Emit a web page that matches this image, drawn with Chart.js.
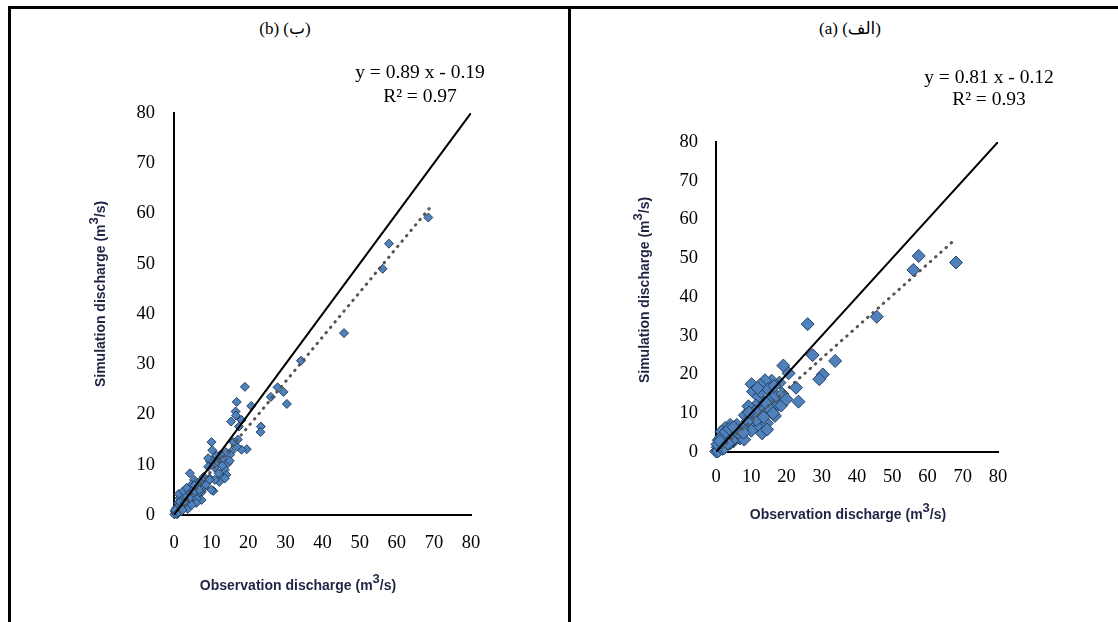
<!DOCTYPE html>
<html>
<head>
<meta charset="utf-8">
<script src="https://cdn.jsdelivr.net/npm/chart.js@4.4.0/dist/chart.umd.min.js"></script>
<style>
  body { margin: 0; background: #fff; width: 1118px; height: 622px; overflow: hidden; position: relative; }
  #frame { position: absolute; left: 8px; top: 6px; width: 1200px; height: 700px; border-left: 3px solid #000; border-top: 3px solid #000; }
  #divider { position: absolute; left: 568px; top: 6px; width: 3px; height: 620px; background: #000; }
  .head { position: absolute; top: 18px; font: 17px 'Liberation Serif', 'DejaVu Sans', serif; white-space: nowrap; transform: translateX(-50%); color: #000; }
  canvas { position: absolute; }
</style>
</head>
<body>
<div id="frame"></div>
<div id="divider"></div>
<div class="head" style="left:285px">(b) (ب)</div>
<div class="head" style="left:850px">(a) (الف)</div>
<canvas id="chartB" width="556" height="612" style="left:12px;top:10px"></canvas>
<canvas id="chartA" width="546" height="612" style="left:572px;top:10px"></canvas>
<script>
// axis ticks (both panels)
const axisTicks = [0, 10, 20, 30, 40, 50, 60, 70, 80];

// panel (b): observed vs simulated discharge, m3/s
const obsB = [68.5, 57.9, 56.2, 45.8, 34.2, 30.4, 29.5, 27.9, 26.1, 23.4, 23.3, 20.8, 19.1, 16.9, 16.6, 16.7, 15.4, 18.2, 17.5, 19.6,
  18.2, 16.9, 15.4, 16.0, 17.2, 10.1, 10.3, 9.7, 9.2, 10.6, 7.5, 4.3, 9.6, 13.2, 14.5, 13.7, 11.9, 11.0, 14.1, 12.7,
  13.7, 12.0, 10.1, 9.2, 15.1, 14.0, 12.5, 11.5, 13.0, 15.0, 12.2, 11.0, 10.1, 7.4, 8.7, 9.6, 6.5, 5.4, 4.7, 3.8,
  2.9, 2.0, 1.5, 1.1, 5.6, 4.7, 6.5, 3.8, 2.4, 7.4, 0.2, 0.3, 0.1, 0.5, 0.8, 1.0, 1.4, 1.8, 2.2, 2.6,
  3.2, 3.5, 4.1, 4.4, 5.0, 5.8, 6.2, 6.9, 8.0, 8.2, 3.0, 2.0, 1.2, 0.6, 0.4, 0.9, 1.6, 2.8, 4.0, 5.2,
  1.3, 2.5, 3.4, 6.0, 0.7, 1.9, 3.7, 4.8, 5.5, 6.8, 8.6, 0.3, 1.1, 2.3];
const simB = [59.2, 54.0, 49.0, 36.2, 30.7, 22.1, 24.5, 25.4, 23.5, 17.6, 16.5, 21.7, 25.5, 22.5, 20.6, 19.8, 18.6, 18.9, 17.6, 13.1,
  13.0, 13.6, 12.6, 14.5, 15.0, 14.5, 12.9, 10.7, 9.6, 4.8, 4.6, 8.3, 7.3, 11.3, 10.3, 9.0, 10.3, 9.4, 8.0, 7.6,
  7.3, 8.3, 10.9, 11.3, 12.0, 12.5, 12.0, 11.8, 9.8, 10.8, 6.6, 7.0, 5.0, 5.0, 6.3, 7.0, 5.6, 7.0, 6.0, 5.0,
  4.3, 4.0, 3.4, 2.4, 3.7, 2.7, 4.3, 3.0, 2.0, 3.0, 0.7, 0.3, 0.1, 0.4, 0.6, 1.2, 0.9, 1.5, 2.8, 3.6,
  3.9, 2.2, 4.6, 3.4, 5.2, 6.2, 3.2, 6.6, 7.6, 5.6, 1.6, 1.1, 1.8, 1.4, 0.9, 0.2, 2.6, 2.4, 1.8, 4.4,
  4.2, 4.8, 5.4, 2.4, 0.2, 0.7, 1.2, 2.0, 5.9, 5.0, 6.0, 1.0, 0.5, 1.0];
const trendB = { slope: 0.89, intercept: -0.19, xEnd: 68.8, equation: 'y = 0.89 x - 0.19', r2: 'R² = 0.97' };

// panel (a)
const obsA = [68.1, 57.5, 56.0, 45.6, 26.0, 27.4, 33.8, 30.3, 29.3, 22.7, 23.4, 19.1, 20.6, 19.2, 18.0, 15.8, 13.9, 12.5, 10.1, 10.5,
  12.0, 11.3, 9.2, 8.2, 16.7, 17.2, 15.3, 13.1, 12.4, 13.1, 14.4, 15.3, 8.7, 6.8, 5.9, 4.0, 2.6, 1.6, 3.5, 4.9,
  3.0, 1.2, 0.3, 0.8, 2.2, 4.5, 9.7, 10.5, 11.5, 18.5, 17.0, 16.2, 14.0, 11.0, 10.0, 9.0, 7.5, 6.0, 5.2, 3.2,
  2.0, 1.0, 0.5, 0.1, 0.6, 1.8, 2.5, 4.0, 5.5, 7.0, 12.8, 14.8, 16.5, 11.8, 18.8, 20.0, 13.5, 14.5, 8.0,
  1.4, 2.8, 3.8, 4.6, 6.3, 0.4, 1.1, 2.3, 5.0, 7.8, 9.4, 3.4];
const simA = [48.9, 50.6, 47.0, 34.9, 33.0, 25.0, 23.5, 20.0, 18.8, 16.6, 13.0, 22.3, 20.3, 13.2, 17.9, 18.4, 18.5, 17.3, 17.5, 15.6,
  14.3, 12.0, 11.8, 9.5, 9.3, 11.8, 13.5, 10.6, 6.5, 4.8, 7.4, 11.0, 5.8, 3.5, 7.0, 7.0, 6.2, 5.3, 4.9, 2.7,
  1.9, 1.0, 0.4, 3.1, 4.0, 5.8, 7.4, 9.1, 8.3, 12.0, 14.5, 10.0, 12.8, 10.5, 5.5, 8.0, 6.0, 4.5, 5.6, 3.0,
  2.4, 2.0, 1.2, 0.1, 0.2, 0.8, 1.4, 2.2, 3.8, 4.8, 15.5, 16.2, 17.0, 16.5, 15.0, 13.6, 9.0, 5.8, 3.2,
  3.8, 5.2, 6.0, 3.0, 5.0, 2.0, 2.8, 1.0, 6.4, 5.0, 10.2, 2.2];
const trendA = { slope: 0.81, intercept: -0.12, xEnd: 67.3, equation: 'y = 0.81 x - 0.12', r2: 'R² = 0.93' };

const titleColor = '#1f2444';

function drawSupTitle(ctx, before, sup, after, x, y, rot) {
  ctx.save();
  ctx.translate(x, y);
  ctx.rotate(rot);
  const mainFont = 'bold 14px "Liberation Sans", Arial, sans-serif';
  const supFont = 'bold 13px "Liberation Sans", Arial, sans-serif';
  ctx.font = mainFont;
  const w1 = ctx.measureText(before).width;
  const w3 = ctx.measureText(after).width;
  ctx.font = supFont;
  const w2 = ctx.measureText(sup).width;
  let cx = -(w1 + w2 + w3) / 2;
  ctx.fillStyle = titleColor;
  ctx.textBaseline = 'middle';
  ctx.textAlign = 'left';
  ctx.font = mainFont;
  ctx.fillText(before, cx, 0);
  cx += w1;
  ctx.font = supFont;
  ctx.fillText(sup, cx, -7);
  cx += w2;
  ctx.font = mainFont;
  ctx.fillText(after, cx, 0);
  ctx.restore();
}

const panelText = {
  id: 'panelText',
  afterDraw(chart, args, opts) {
    const ctx = chart.ctx;
    ctx.save();
    ctx.fillStyle = '#000';
    ctx.font = '19.5px "Liberation Serif", "Times New Roman", serif';
    ctx.textAlign = 'center';
    ctx.textBaseline = 'middle';
    ctx.fillText(opts.equation, opts.eqX, opts.eqY);
    ctx.fillText(opts.r2, opts.eqX, opts.r2Y);
    ctx.restore();
    drawSupTitle(ctx, 'Observation discharge (m', '3', '/s)', opts.xTitleX, opts.xTitleY, 0);
    drawSupTitle(ctx, 'Simulation discharge (m', '3', '/s)', opts.yTitleX, opts.yTitleY, -Math.PI / 2);
  }
};

function makePanel(id, obs, sim, trend, lay) {
  const points = obs.map((x, i) => ({ x: x, y: sim[i] }));
  const trendPts = [
    { x: 0, y: trend.intercept },
    { x: trend.xEnd, y: trend.slope * trend.xEnd + trend.intercept },
  ];
  const tickFont = { family: '"Liberation Serif", "Times New Roman", serif', size: lay.tickSize };

  return new Chart(document.getElementById(id), {
    type: 'scatter',
    data: {
      datasets: [
        {
          type: 'line',
          data: [{ x: 0, y: 0 }, { x: 80, y: 80 }],
          borderColor: '#000',
          borderWidth: 2,
          pointRadius: 0,
          order: 1,
        },
        {
          type: 'line',
          data: trendPts,
          borderColor: '#555',
          borderWidth: 3,
          borderDash: [0.5, 6.5],
          borderCapStyle: 'round',
          pointRadius: 0,
          order: 2,
        },
        {
          data: points,
          pointStyle: 'rectRot',
          pointRadius: lay.markerSize,
          backgroundColor: '#4F81BD',
          borderColor: '#24405f',
          borderWidth: 1,
          clip: false,
          order: 3,
        },
      ],
    },
    options: {
      responsive: false,
      animation: false,
      layout: { padding: { top: lay.padTop, right: lay.padRight, left: 0, bottom: 0 } },
      plugins: {
        legend: { display: false },
        tooltip: { enabled: false },
        panelText: lay.text,
      },
      scales: {
        x: {
          type: 'linear',
          min: 0,
          max: 80,
          afterFit: (s) => { s.height = lay.xHeight; },
          afterBuildTicks: (s) => { s.ticks = axisTicks.map((v) => ({ value: v })); },
          grid: { display: false, drawTicks: false },
          border: { display: true, color: '#000', width: 2 },
          ticks: { color: '#000', font: tickFont, padding: lay.xPad, maxRotation: 0 },
        },
        y: {
          type: 'linear',
          min: 0,
          max: 80,
          afterFit: (s) => { s.width = lay.yWidth; },
          afterBuildTicks: (s) => { s.ticks = axisTicks.map((v) => ({ value: v })); },
          grid: { display: false, drawTicks: false },
          border: { display: true, color: '#000', width: 2 },
          ticks: { color: '#000', font: tickFont, padding: lay.yPad },
        },
      },
    },
    plugins: [panelText],
  });
}

makePanel('chartB', obsB, simB, trendB, {
  padTop: 103, padRight: 97, yWidth: 162, xHeight: 107, tickSize: 18.5, xPad: 17, yPad: 19, markerSize: 4.5,
  text: { equation: trendB.equation, r2: trendB.r2, eqX: 408, eqY: 63, r2Y: 87, xTitleX: 286, xTitleY: 576, yTitleX: 89, yTitleY: 284 },
});

makePanel('chartA', obsA, simA, trendA, {
  padTop: 132, padRight: 120, yWidth: 144, xHeight: 170, tickSize: 18.5, xPad: 14, yPad: 18, markerSize: 6.5,
  text: { equation: trendA.equation, r2: trendA.r2, eqX: 417, eqY: 68, r2Y: 90, xTitleX: 276, xTitleY: 505, yTitleX: 73, yTitleY: 280 },
});
</script>
</body>
</html>
